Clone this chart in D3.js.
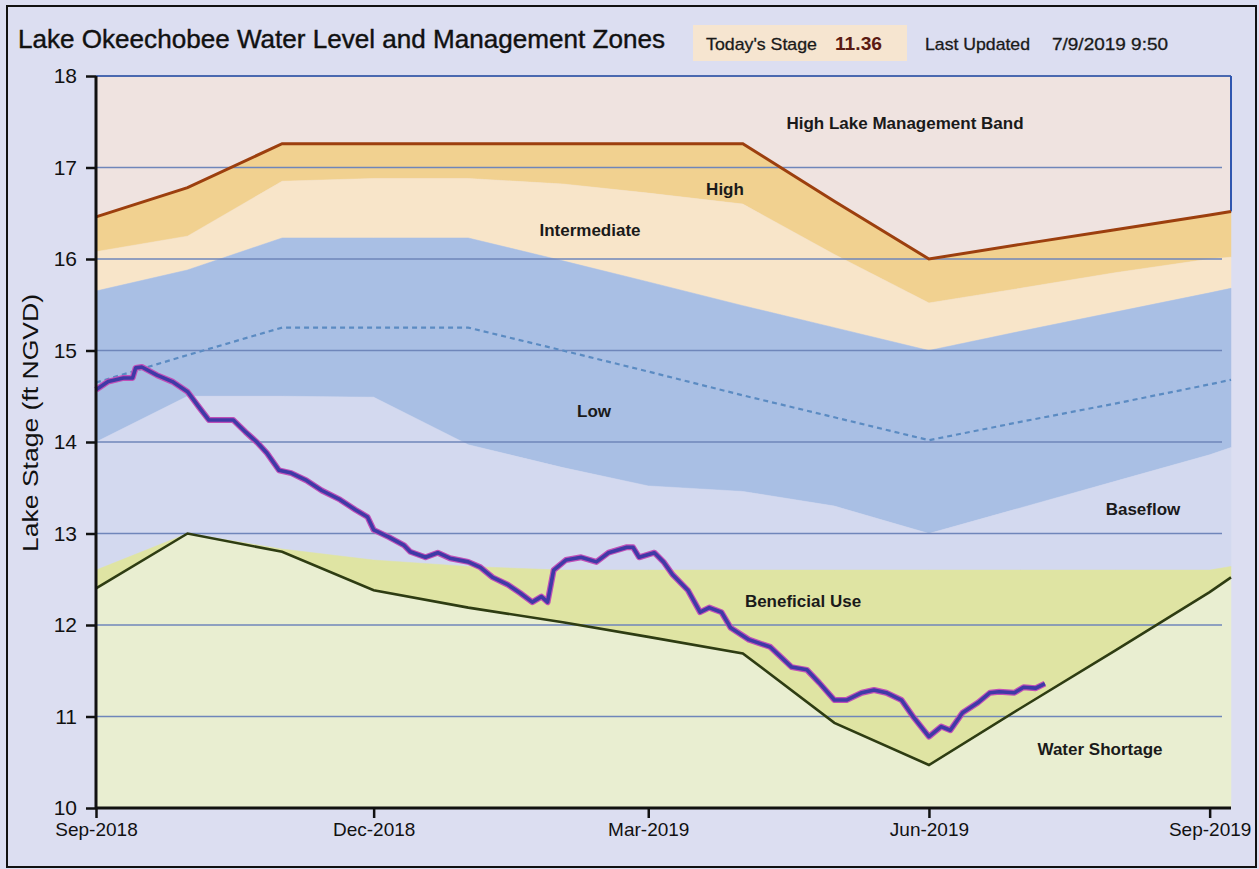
<!DOCTYPE html>
<html>
<head>
<meta charset="utf-8">
<script src="https://cdn.jsdelivr.net/npm/d3@7"></script>
<style>
  body { margin:0; background:#dcdef1; }
  svg { display:block; font-family:"Liberation Sans", Arial, sans-serif; }
</style>
</head>
<body>
<div id="chart"></div>
<script>
// schedule breakpoints (LORS zones), ft NGVD
let zoneDates   = ["2018-09-01","2018-10-01","2018-11-01","2018-12-01","2019-01-01","2019-02-01","2019-03-01","2019-04-01","2019-05-01","2019-06-01","2019-07-01","2019-08-01","2019-09-01","2019-09-08"]
let highBand    = [16.46,16.78,17.26,17.26,17.26,17.26,17.26,17.26,16.63,16.00,16.16,16.32,16.48,16.52]
let highBottom  = [16.08,16.25,16.85,16.88,16.88,16.82,16.72,16.60,16.05,15.52,15.68,15.85,16.00,16.02]
let interBottom = [15.65,15.88,16.23,16.23,16.23,15.98,15.75,15.49,15.25,15.00,15.21,15.42,15.63,15.68]
let lowMiddle   = [14.65,14.95,15.25,15.25,15.25,15.00,14.77,14.51,14.27,14.02,14.22,14.42,14.63,14.68]
let lowBottom   = [14.00,14.50,14.50,14.49,13.97,13.72,13.52,13.46,13.30,13.00,13.28,13.57,13.86,13.94]
let benefTop    = [12.60,13.00,12.83,12.71,12.64,12.60,12.60,12.60,12.60,12.60,12.60,12.60,12.60,12.64]
let shortage    = [12.40,13.00,12.80,12.38,12.19,12.03,11.87,11.69,10.93,10.47,11.09,11.72,12.36,12.52]

// daily lake stage
let stageDates = ["2018-09-01","2018-09-05","2018-09-10","2018-09-13","2018-09-14","2018-09-16","2018-09-21","2018-09-26","2018-10-01","2018-10-05","2018-10-08","2018-10-16","2018-10-20","2018-10-24","2018-10-27","2018-10-31","2018-11-04","2018-11-09","2018-11-14","2018-11-20","2018-11-25","2018-11-29","2018-12-01","2018-12-06","2018-12-11","2018-12-13","2018-12-18","2018-12-22","2018-12-26","2019-01-01","2019-01-05","2019-01-09","2019-01-14","2019-01-18","2019-01-22","2019-01-25","2019-01-27","2019-01-29","2019-02-02","2019-02-07","2019-02-12","2019-02-16","2019-02-22","2019-02-24","2019-02-26","2019-03-03","2019-03-06","2019-03-09","2019-03-14","2019-03-18","2019-03-21","2019-03-25","2019-03-28","2019-04-03","2019-04-10","2019-04-17","2019-04-22","2019-04-26","2019-05-01","2019-05-05","2019-05-10","2019-05-14","2019-05-18","2019-05-23","2019-05-27","2019-06-01","2019-06-05","2019-06-08","2019-06-12","2019-06-17","2019-06-21","2019-06-24","2019-06-29","2019-07-02","2019-07-06","2019-07-09"]
let stageValues = [14.57,14.66,14.70,14.70,14.81,14.82,14.73,14.66,14.55,14.37,14.24,14.24,14.11,13.99,13.88,13.69,13.66,13.58,13.47,13.37,13.26,13.18,13.04,12.96,12.87,12.80,12.74,12.79,12.73,12.69,12.63,12.52,12.44,12.35,12.25,12.31,12.25,12.60,12.71,12.74,12.69,12.79,12.85,12.85,12.74,12.79,12.69,12.55,12.38,12.14,12.19,12.14,11.97,11.84,11.76,11.54,11.51,11.37,11.18,11.18,11.26,11.29,11.26,11.18,10.99,10.78,10.89,10.85,11.04,11.15,11.26,11.27,11.26,11.32,11.31,11.36]

let yTicks = [10,11,12,13,14,15,16,17,18]
let xTicks = ["2018-09-01","2018-12-01","2019-03-01","2019-06-01","2019-09-01"]
let todayStage = "11.36", lastUpdated = "7/9/2019 9:50"

function render(){
  let width = 1259, height = 869,
      margin = { top:76, left:96, right:28, bottom:61 },
      innerWidth = width - margin.left - margin.right,
      innerHeight = height - margin.top - margin.bottom
  let parse = d3.timeParse("%Y-%m-%d")

  let zones = zoneDates.map(function(d,i){
    return { date:parse(d), band:highBand[i], high:highBottom[i], inter:interBottom[i],
             mid:lowMiddle[i], low:lowBottom[i], benef:benefTop[i], short:shortage[i] }
  })
  let stage = stageDates.map(function(d,i){ return { date:parse(d), value:stageValues[i] } })

  let xScale = d3.scaleTime().domain([parse("2018-09-01"), parse("2019-09-08")]).range([0,innerWidth])
  let yScale = d3.scaleLinear().domain([10,18]).range([innerHeight,0])

  let svg = d3.select("#chart").append("svg").attr("width",width).attr("height",height)
  svg.append("rect").attr("x",7).attr("y",6).attr("width",1249).attr("height",861)
     .attr("fill","#dcdef1").attr("stroke","#111").attr("stroke-width",2)

  let g = svg.append("g").attr("transform",`translate(${margin.left},${margin.top})`)

  // zone fills, top to bottom
  let bands = [
    { top:d=>18,       bottom:d=>d.band,  color:"#efe3e0" },
    { top:d=>d.band,   bottom:d=>d.high,  color:"#f1d190" },
    { top:d=>d.high,   bottom:d=>d.inter, color:"#f8e5c9" },
    { top:d=>d.inter,  bottom:d=>d.low,   color:"#a9bfe4" },
    { top:d=>d.low,    bottom:d=>d.benef, color:"#d3d9ef" },
    { top:d=>d.benef,  bottom:d=>d.short, color:"#dfe4a3" },
    { top:d=>d.short,  bottom:d=>10,      color:"#e9eed1" }
  ]
  bands.forEach(function(b){
    let area = d3.area().x(d=>xScale(d.date)).y0(d=>yScale(b.bottom(d))).y1(d=>yScale(b.top(d)))
    g.append("path").attr("d",area(zones)).attr("fill",b.color).attr("stroke",b.color).attr("stroke-width",0.5)
  })

  // grid
  g.selectAll(".grid").data(yTicks.filter(v=>v>10 && v<18)).enter().append("line")
    .attr("x1",0).attr("x2",innerWidth-9)
    .attr("y1",d=>yScale(d)).attr("y2",d=>yScale(d))
    .attr("stroke","#6f86ba").attr("stroke-width",1.6)
  g.append("line").attr("x1",0).attr("x2",innerWidth).attr("y1",yScale(18)).attr("y2",yScale(18))
    .attr("stroke","#4a69b0").attr("stroke-width",2)
  g.append("line").attr("x1",innerWidth).attr("x2",innerWidth)
    .attr("y1",yScale(18)).attr("y2",yScale(highBand[highBand.length-1]))
    .attr("stroke","#2f56b0").attr("stroke-width",2)

  let lineOf = key => d3.line().x(d=>xScale(d.date)).y(d=>yScale(d[key]))
  g.append("path").attr("d",lineOf("mid")(zones)).attr("fill","none")
    .attr("stroke","#5b8bc2").attr("stroke-width",2.2).attr("stroke-dasharray","5,4")
  g.append("path").attr("d",lineOf("short")(zones)).attr("fill","none")
    .attr("stroke","#2e3c12").attr("stroke-width",2.6)
  g.append("path").attr("d",lineOf("band")(zones)).attr("fill","none")
    .attr("stroke","#9c3f0e").attr("stroke-width",3)

  let stageLine = d3.line().x(d=>xScale(d.date)).y(d=>yScale(d.value))
  g.append("path").attr("d",stageLine(stage)).attr("fill","none")
    .attr("stroke","#c04fb8").attr("stroke-width",6).attr("stroke-linejoin","round")
  g.append("path").attr("d",stageLine(stage)).attr("fill","none")
    .attr("stroke","#3f3aa6").attr("stroke-width",3.6).attr("stroke-linejoin","round")

  // axes
  let yAxis = d3.axisLeft(yScale).tickValues(yTicks).tickSize(10).tickPadding(9).tickFormat(d3.format("d"))
  let xAxis = d3.axisBottom(xScale).tickValues(xTicks.map(parse)).tickSize(10).tickPadding(5).tickFormat(d3.timeFormat("%b-%Y"))
  let yGroup = g.append("g").call(yAxis)
  let xGroup = g.append("g").attr("transform",`translate(0,${innerHeight})`).call(xAxis)
  yGroup.select(".domain").attr("d",`M0,${innerHeight}V0`).attr("stroke","#111").attr("stroke-width",3)
  xGroup.select(".domain").attr("d",`M0,0H${innerWidth}`).attr("stroke","#111").attr("stroke-width",3)
  yGroup.selectAll(".tick line").attr("stroke","#111").attr("stroke-width",2.5)
  xGroup.selectAll(".tick line").attr("stroke","#111").attr("stroke-width",2.5)
  yGroup.selectAll("text").attr("font-size",21).attr("fill","#111").attr("font-family","Liberation Sans, Arial")
  xGroup.selectAll("text").attr("font-size",19).attr("fill","#111").attr("font-family","Liberation Sans, Arial")

  svg.append("text").text("Lake Stage (ft NGVD)").attr("font-size",22).attr("fill","#111")
    .attr("text-anchor","middle").attr("transform","translate(38,423) rotate(-90)")
    .attr("textLength",258).attr("lengthAdjust","spacingAndGlyphs")

  // zone labels
  let labels = [
    { t:"High Lake Management Band", x:905,  y:129 },
    { t:"High",                      x:725,  y:195 },
    { t:"Intermediate",              x:590,  y:236 },
    { t:"Low",                       x:594,  y:417 },
    { t:"Baseflow",                  x:1143, y:515 },
    { t:"Beneficial Use",            x:803,  y:607 },
    { t:"Water Shortage",            x:1100, y:755 }
  ]
  svg.selectAll(".zl").data(labels).enter().append("text")
    .attr("x",d=>d.x).attr("y",d=>d.y).attr("text-anchor","middle")
    .attr("font-size",17).attr("font-weight","bold").attr("fill","#1a1a1a").text(d=>d.t)

  // header
  svg.append("text").text("Lake Okeechobee Water Level and Management Zones")
    .attr("x",18).attr("y",48).attr("font-size",25).attr("fill","#111")
    .attr("stroke","#111").attr("stroke-width",0.4)
    .attr("textLength",647).attr("lengthAdjust","spacingAndGlyphs")
  svg.append("rect").attr("x",693).attr("y",25).attr("width",214).attr("height",36).attr("fill","#f6e5d0")
  svg.append("text").text("Today's Stage").attr("x",706).attr("y",50).attr("font-size",17).attr("fill","#1a1a1a")
    .attr("stroke","#1a1a1a").attr("stroke-width",0.3)
    .attr("textLength",111).attr("lengthAdjust","spacingAndGlyphs")
  svg.append("text").text(todayStage).attr("x",835).attr("y",50).attr("font-size",18).attr("font-weight","bold").attr("fill","#5a1a12")
    .attr("textLength",47).attr("lengthAdjust","spacingAndGlyphs")
  svg.append("text").text("Last Updated").attr("x",925).attr("y",50).attr("font-size",17).attr("fill","#1a1a1a")
    .attr("stroke","#1a1a1a").attr("stroke-width",0.3)
    .attr("textLength",105).attr("lengthAdjust","spacingAndGlyphs")
  svg.append("text").text(lastUpdated).attr("x",1052).attr("y",50).attr("font-size",17).attr("fill","#1a1a1a")
    .attr("stroke","#1a1a1a").attr("stroke-width",0.3)
    .attr("textLength",116).attr("lengthAdjust","spacingAndGlyphs")
}
render()
</script>
</body>
</html>
